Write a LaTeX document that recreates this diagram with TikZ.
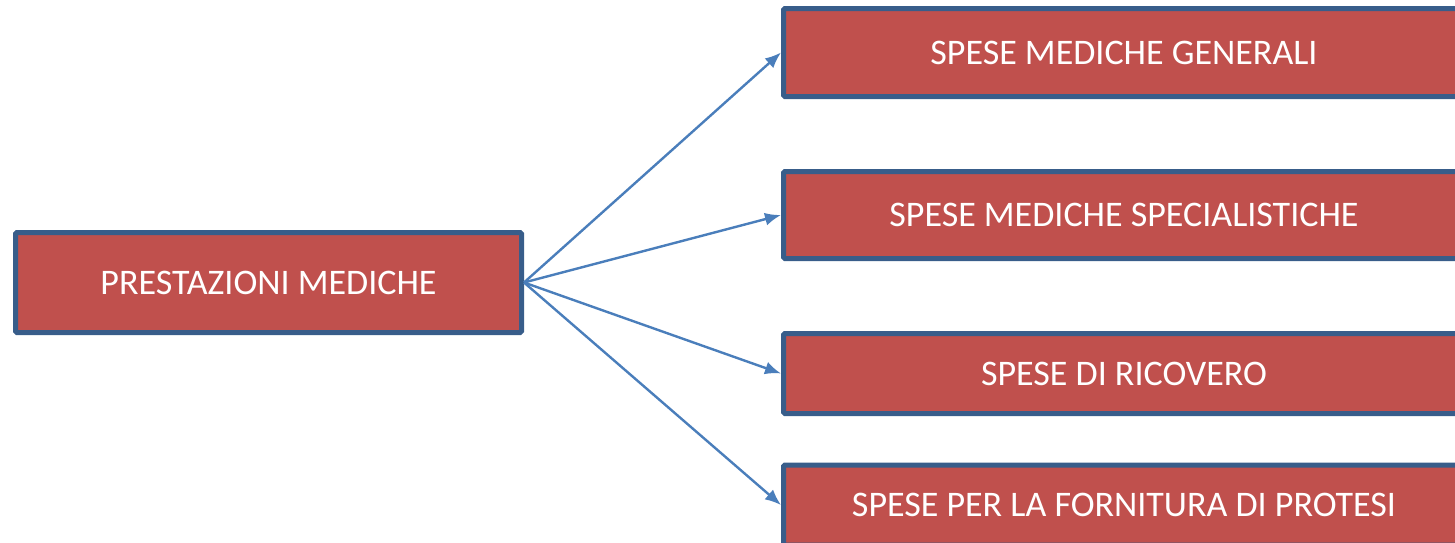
\documentclass[tikz,border=0pt]{standalone}
\usepackage{fontspec}
\setmainfont{Carlito}
\usepackage{tikz}
\usetikzlibrary{arrows.meta}

\definecolor{boxfill}{HTML}{C0504D}
\definecolor{boxline}{HTML}{385D8A}
\definecolor{arrowline}{HTML}{4A7EBB}

\begin{document}
\begin{tikzpicture}[x=1pt, y=-1pt,
    voce/.style={draw=boxline, fill=boxfill, line width=5pt, rounded corners=1.5pt,
      text=white, font=\fontsize{36}{42}\selectfont, inner sep=0pt},
    freccia/.style={draw=arrowline, line width=2.4pt, arrows=-{Latex[length=16pt,width=13pt]}}]
  \useasboundingbox (0,0) rectangle (1455,542);
  \node[voce, minimum width=506pt, minimum height=100pt] (prestazioni) at (268.5,282.5) {PRESTAZIONI MEDICHE};
  \node[voce, minimum width=681pt, minimum height=88pt] (generali) at (1124,52.5) {SPESE MEDICHE GENERALI};
  \node[voce, minimum width=681pt, minimum height=87pt] (specialistiche) at (1124,215) {SPESE MEDICHE SPECIALISTICHE};
  \node[voce, minimum width=681pt, minimum height=80pt] (ricovero) at (1124,373.5) {SPESE DI RICOVERO};
  \node[voce, minimum width=681pt, minimum height=80pt] (protesi) at (1124,505) {SPESE PER LA FORNITURA DI PROTESI};
  \path[freccia] (prestazioni.east) -- (generali.west);
  \path[freccia] (prestazioni.east) -- (specialistiche.west);
  \path[freccia] (prestazioni.east) -- (ricovero.west);
  \path[freccia] (prestazioni.east) -- (protesi.west);
\end{tikzpicture}
\end{document}
